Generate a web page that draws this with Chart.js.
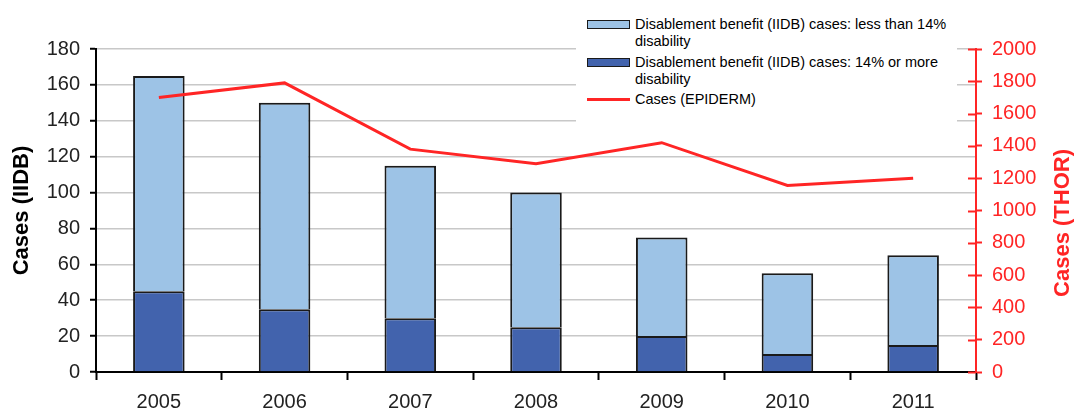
<!DOCTYPE html>
<html>
<head>
<meta charset="utf-8">
<script src="https://cdn.jsdelivr.net/npm/chart.js@4.4.1/dist/chart.umd.min.js"></script>
<style>
  body { margin: 0; background: #fff; }
  .parent { position: relative; width: 1077px; height: 414px; }
  #legend {
    position: absolute; left: 576px; top: 10px; width: 381px; height: 118px;
    background: #fff; font-family: Arial, "Liberation Sans", sans-serif;
    font-size: 14.5px; line-height: 17px; color: #000; padding-top: 6px; box-sizing: border-box;
  }
  #legend .item { display: flex; align-items: flex-start; margin-bottom: 3.5px; }
  #legend .sw { width: 43px; height: 9px; margin: 4px 0 0 11px; box-sizing: border-box; flex: none; }
  #legend .txt { width: 318px; margin-left: 5px; }
</style>
</head>
<body>
<div class="parent">
  <canvas id="chart" width="1077" height="414"></canvas>
  <div id="legend"></div>
</div>
<script>
// data
const years = ['2005', '2006', '2007', '2008', '2009', '2010', '2011'];
const iidbHigh = [45, 35, 30, 25, 20, 10, 15];      // 14% or more disability
const iidbLow = [120, 115, 85, 75, 55, 45, 50];     // less than 14% disability
const epiderm = [1700, 1790, 1380, 1290, 1420, 1155, 1200];

const leftMax = 180, leftStep = 20;
const rightMax = 2000, rightStep = 200;

const font = 'Arial, "Liberation Sans", sans-serif';
const red = '#ff2525';

// short red ticks on the inner side of the right axis + rotated title
const rightAxisExtras = {
    id: 'rightAxisExtras',
    afterDraw(chart) {
        const ctx = chart.ctx;
        const s = chart.scales.y1;
        ctx.save();
        ctx.strokeStyle = red;
        ctx.lineWidth = 2;
        s.ticks.forEach(t => {
            const y = Math.round(s.getPixelForValue(t.value)) + 0.5;
            ctx.beginPath();
            ctx.moveTo(s.left - 8, y);
            ctx.lineTo(s.left, y);
            ctx.stroke();
        });
        ctx.translate(1063, 223);
        ctx.rotate(-Math.PI / 2);
        ctx.fillStyle = red;
        ctx.font = 'bold 22px ' + font;
        ctx.textAlign = 'center';
        ctx.textBaseline = 'middle';
        ctx.fillText('Cases (THOR)', 0, 0);
        ctx.restore();
    }
};

const ctx = document.getElementById('chart').getContext('2d');
const chart = new Chart(ctx, {
    data: {
        labels: years,
        datasets: [
            {
                type: 'line',
                label: 'Cases (EPIDERM)',
                data: epiderm,
                yAxisID: 'y1',
                borderColor: red,
                borderWidth: 3,
                pointRadius: 0,
                tension: 0,
                order: 0
            },
            {
                type: 'bar',
                label: 'Disablement benefit (IIDB) cases: 14% or more disability',
                data: iidbHigh,
                yAxisID: 'y',
                backgroundColor: '#4263ad',
                borderColor: '#1a1a1a',
                borderWidth: 2,
                barPercentage: 0.41,
                categoryPercentage: 1,
                order: 1
            },
            {
                type: 'bar',
                label: 'Disablement benefit (IIDB) cases: less than 14% disability',
                data: iidbLow,
                yAxisID: 'y',
                backgroundColor: '#9dc3e6',
                borderColor: '#1a1a1a',
                borderWidth: 2,
                barPercentage: 0.41,
                categoryPercentage: 1,
                order: 1
            }
        ]
    },
    options: {
        responsive: false,
        animation: false,
        layout: { padding: { top: 49, left: 0, right: 0, bottom: 0 } },
        plugins: { legend: { display: false }, tooltip: { enabled: false } },
        scales: {
            x: {
                stacked: true,
                offset: true,
                grid: { offset: true, drawOnChartArea: false, tickLength: 8, tickColor: '#000', tickWidth: 2 },
                border: { color: '#000', width: 2 },
                ticks: { color: '#222', font: { size: 20, family: font }, padding: 10 },
                afterFit: s => { s.height = 42; }
            },
            y: {
                position: 'left',
                stacked: true,
                min: 0,
                max: leftMax,
                ticks: { stepSize: leftStep, color: '#222', font: { size: 20, family: font }, padding: 10 },
                grid: { color: '#c8c8c8', lineWidth: 1.5, tickColor: '#000', tickLength: 6, tickWidth: 2 },
                border: { color: '#000', width: 2 },
                title: {
                    display: true, text: 'Cases (IIDB)', color: '#000',
                    font: { size: 22, weight: 'bold', family: font },
                    padding: { top: 9, bottom: 0 }
                },
                afterFit: s => { s.width = 96; }
            },
            y1: {
                position: 'right',
                stacked: false,
                min: 0,
                max: rightMax,
                ticks: {
                    stepSize: rightStep, color: red, font: { size: 20, family: font }, padding: 10,
                    format: { useGrouping: false }
                },
                grid: { drawOnChartArea: false, tickColor: red, tickLength: 6, tickWidth: 2 },
                border: { color: red, width: 2 },
                afterFit: s => { s.width = 101; }
            }
        }
    },
    plugins: [rightAxisExtras]
});

// html legend so the long labels wrap like the original
const legendOrder = [2, 1, 0];
const legendEl = document.getElementById('legend');
legendOrder.forEach(i => {
    const ds = chart.data.datasets[i];
    const item = document.createElement('div');
    item.className = 'item';
    const sw = document.createElement('div');
    sw.className = 'sw';
    if (ds.type === 'line') {
        sw.style.height = '3px';
        sw.style.marginTop = '7px';
        sw.style.background = ds.borderColor;
    } else {
        sw.style.background = ds.backgroundColor;
        sw.style.border = '1.5px solid ' + ds.borderColor;
    }
    const txt = document.createElement('div');
    txt.className = 'txt';
    txt.textContent = ds.label;
    item.appendChild(sw);
    item.appendChild(txt);
    legendEl.appendChild(item);
});
</script>
</body>
</html>
